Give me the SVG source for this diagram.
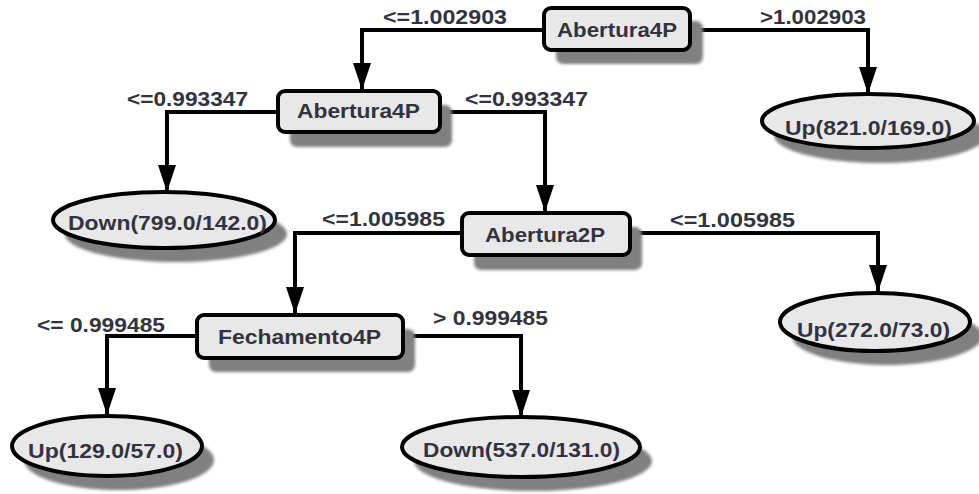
<svg xmlns="http://www.w3.org/2000/svg" width="979" height="494" viewBox="0 0 979 494">
<defs>
<style>
.box{fill:#e8e8e8;stroke:#000;stroke-width:4}
.sh{fill:#808080;filter:url(#blur)}
.t{font-family:"Liberation Sans",Arial,sans-serif;font-weight:bold;font-size:20.5px;fill:#333340}
.e{fill:none;stroke:#000;stroke-width:4}
</style>
<filter id="blur" x="-20%" y="-20%" width="140%" height="140%"><feGaussianBlur stdDeviation="1.5"/></filter>
<marker id="ah" markerUnits="userSpaceOnUse" markerWidth="28" markerHeight="20" viewBox="0 0 28 20" refX="27" refY="10" orient="auto">
<path d="M0,1 L27,10 L0,19 Z" fill="#000"/>
</marker>
</defs>
<rect width="979" height="494" fill="#fff"/>
<g id="connectors">
<path class="e" d="M543,30 H362 V90" marker-end="url(#ah)"/>
<path class="e" d="M690,30 H868 V94" marker-end="url(#ah)"/>
<path class="e" d="M278,112 H167 V192" marker-end="url(#ah)"/>
<path class="e" d="M440,112 H545 V212" marker-end="url(#ah)"/>
<path class="e" d="M462,233 H295 V314" marker-end="url(#ah)"/>
<path class="e" d="M630,233 H878 V292" marker-end="url(#ah)"/>
<path class="e" d="M197,336 H107 V415" marker-end="url(#ah)"/>
<path class="e" d="M403,336 H521 V417" marker-end="url(#ah)"/>
<text class="t" x="383" y="24" textLength="124" lengthAdjust="spacingAndGlyphs">&lt;=1.002903</text>
<text class="t" x="760" y="24" textLength="106" lengthAdjust="spacingAndGlyphs">&gt;1.002903</text>
<text class="t" x="127" y="106" textLength="121" lengthAdjust="spacingAndGlyphs">&lt;=0.993347</text>
<text class="t" x="465" y="106" textLength="123" lengthAdjust="spacingAndGlyphs">&lt;=0.993347</text>
<text class="t" x="322" y="226" textLength="123" lengthAdjust="spacingAndGlyphs">&lt;=1.005985</text>
<text class="t" x="670" y="227" textLength="125" lengthAdjust="spacingAndGlyphs">&lt;=1.005985</text>
<text class="t" x="37" y="332" textLength="128" lengthAdjust="spacingAndGlyphs">&lt;= 0.999485</text>
<text class="t" x="433" y="325" textLength="115" lengthAdjust="spacingAndGlyphs">&gt; 0.999485</text>
</g>
<g id="n1">
<rect class="sh" x="556" y="21" width="147" height="43" rx="7"/>
<rect class="box" x="544" y="8" width="146" height="42" rx="7"/>
<text class="t" x="557" y="37" textLength="120" lengthAdjust="spacingAndGlyphs">Abertura4P</text>
</g>
<g id="n2">
<rect class="sh" x="290" y="105" width="162" height="42" rx="7"/>
<rect class="box" x="278" y="91" width="162" height="41" rx="7"/>
<text class="t" x="297" y="118" textLength="123" lengthAdjust="spacingAndGlyphs">Abertura4P</text>
</g>
<g id="n3">
<ellipse class="sh" cx="880" cy="135" rx="106" ry="28"/>
<ellipse class="box" cx="868" cy="121" rx="106" ry="27"/>
<text class="t" x="785" y="135" textLength="167" lengthAdjust="spacingAndGlyphs">Up(821.0/169.0)</text>
</g>
<g id="n4">
<ellipse class="sh" cx="176" cy="234" rx="111" ry="28"/>
<ellipse class="box" cx="164" cy="220" rx="111" ry="28"/>
<text class="t" x="68" y="230" textLength="199" lengthAdjust="spacingAndGlyphs">Down(799.0/142.0)</text>
</g>
<g id="n5">
<rect class="sh" x="474" y="227" width="168" height="43" rx="7"/>
<rect class="box" x="462" y="213" width="168" height="42" rx="7"/>
<text class="t" x="485" y="242" textLength="120" lengthAdjust="spacingAndGlyphs">Abertura2P</text>
</g>
<g id="n6">
<ellipse class="sh" cx="887" cy="336" rx="95" ry="29"/>
<ellipse class="box" cx="875" cy="322" rx="95" ry="29"/>
<text class="t" x="797" y="337" textLength="153" lengthAdjust="spacingAndGlyphs">Up(272.0/73.0)</text>
</g>
<g id="n7">
<rect class="sh" x="209" y="329" width="206" height="43" rx="7"/>
<rect class="box" x="197" y="315" width="206" height="43" rx="7"/>
<text class="t" x="218" y="344" textLength="163" lengthAdjust="spacingAndGlyphs">Fechamento4P</text>
</g>
<g id="n8">
<ellipse class="sh" cx="119" cy="460" rx="95" ry="30"/>
<ellipse class="box" cx="107" cy="446" rx="95" ry="30"/>
<text class="t" x="28" y="458" textLength="155" lengthAdjust="spacingAndGlyphs">Up(129.0/57.0)</text>
</g>
<g id="n9">
<ellipse class="sh" cx="533" cy="461" rx="119" ry="30"/>
<ellipse class="box" cx="521" cy="447" rx="119" ry="30"/>
<text class="t" x="423" y="457" textLength="197" lengthAdjust="spacingAndGlyphs">Down(537.0/131.0)</text>
</g>
</svg>
